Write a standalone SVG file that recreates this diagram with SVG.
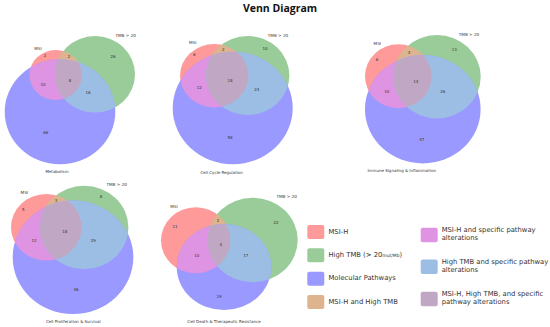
<svg xmlns="http://www.w3.org/2000/svg" width="550" height="327" viewBox="0 0 550 327">
<style>
.r{fill:#FF9A9A}.g{fill:#99CC99}.b{fill:#9999FF}
.rg{fill:#DDB48E}.rb{fill:#DE93E3}.gb{fill:#9CBEE4}.rgb{fill:#C0A8C4}
.n{font-family:"DejaVu Sans",sans-serif;font-size:4px;fill:#333;text-anchor:middle;dominant-baseline:central}
.lab{font-family:"DejaVu Sans",sans-serif;font-size:4.2px;fill:#333;text-anchor:middle;dominant-baseline:central}
.lg{font-family:"DejaVu Sans",sans-serif;font-size:6.8px;fill:#333;dominant-baseline:central}
.title{font-family:"Open Sans",sans-serif;font-size:10.5px;font-weight:bold;fill:#111;text-anchor:middle}
</style>
<defs>
<clipPath id="cR1"><ellipse cx="55.7" cy="75" rx="26.3" ry="25"/></clipPath>
<clipPath id="cG1"><ellipse cx="95" cy="74.3" rx="40" ry="38.3"/></clipPath>
<clipPath id="cR2"><ellipse cx="214.2" cy="75.7" rx="34.2" ry="31.7"/></clipPath>
<clipPath id="cG2"><ellipse cx="247.7" cy="75.5" rx="41.7" ry="39.5"/></clipPath>
<clipPath id="cR3"><ellipse cx="398.3" cy="76.3" rx="33.3" ry="32"/></clipPath>
<clipPath id="cG3"><ellipse cx="437" cy="76.7" rx="43.7" ry="41.7"/></clipPath>
<clipPath id="cR4"><ellipse cx="46.3" cy="227.3" rx="35.3" ry="33.3"/></clipPath>
<clipPath id="cG4"><ellipse cx="84.2" cy="227.5" rx="44.2" ry="41.8"/></clipPath>
<clipPath id="cR5"><ellipse cx="195.7" cy="240.3" rx="34.7" ry="33"/></clipPath>
<clipPath id="cG5"><ellipse cx="252.7" cy="240" rx="45" ry="42.3"/></clipPath>
</defs>
<rect width="550" height="327" fill="#fff"/>
<text class="title" x="280" y="12">Venn Diagram</text>

<g id="venn-metabolism">
<ellipse class="r" cx="55.7" cy="75" rx="26.3" ry="25"/>
<ellipse class="g" cx="95" cy="74.3" rx="40" ry="38.3"/>
<ellipse class="b" cx="60" cy="111.8" rx="55.3" ry="52.5"/>
<ellipse class="rg" cx="95" cy="74.3" rx="40" ry="38.3" clip-path="url(#cR1)"/>
<ellipse class="rb" cx="60" cy="111.8" rx="55.3" ry="52.5" clip-path="url(#cR1)"/>
<ellipse class="gb" cx="60" cy="111.8" rx="55.3" ry="52.5" clip-path="url(#cG1)"/>
<g clip-path="url(#cR1)"><ellipse class="rgb" cx="60" cy="111.8" rx="55.3" ry="52.5" clip-path="url(#cG1)"/></g>
<text class="lab" x="38" y="48">MSI</text>
<text class="lab" x="125.7" y="35">TMB &gt; 20</text>
<text class="n" x="45" y="55">2</text>
<text class="n" x="69" y="56.7">2</text>
<text class="n" x="113" y="56.7">26</text>
<text class="n" x="43" y="84">10</text>
<text class="n" x="70" y="80">8</text>
<text class="n" x="88" y="92">16</text>
<text class="n" x="45.7" y="132.7">66</text>
<text class="n" x="57" y="171.7">Metabolism</text>
</g>

<g id="venn-cell-cycle">
<ellipse class="r" cx="214.2" cy="75.7" rx="34.2" ry="31.7"/>
<ellipse class="g" cx="247.7" cy="75.5" rx="41.7" ry="39.5"/>
<ellipse class="b" cx="232.7" cy="108" rx="60" ry="56.3"/>
<ellipse class="rg" cx="247.7" cy="75.5" rx="41.7" ry="39.5" clip-path="url(#cR2)"/>
<ellipse class="rb" cx="232.7" cy="108" rx="60" ry="56.3" clip-path="url(#cR2)"/>
<ellipse class="gb" cx="232.7" cy="108" rx="60" ry="56.3" clip-path="url(#cG2)"/>
<g clip-path="url(#cR2)"><ellipse class="rgb" cx="232.7" cy="108" rx="60" ry="56.3" clip-path="url(#cG2)"/></g>
<text class="lab" x="192.7" y="42.7">MSI</text>
<text class="lab" x="278" y="35">TMB &gt; 20</text>
<text class="n" x="194.3" y="54.3">6</text>
<text class="n" x="223.3" y="49.3">2</text>
<text class="n" x="265" y="48.3">10</text>
<text class="n" x="199.3" y="87.3">12</text>
<text class="n" x="230" y="80">18</text>
<text class="n" x="256.7" y="89.3">24</text>
<text class="n" x="230" y="137.7">58</text>
<text class="n" x="221.7" y="172.3">Cell Cycle Regulation</text>
</g>

<g id="venn-immune">
<ellipse class="r" cx="398.3" cy="76.3" rx="33.3" ry="32"/>
<ellipse class="g" cx="437" cy="76.7" rx="43.7" ry="41.7"/>
<ellipse class="b" cx="422.8" cy="109.2" rx="57.8" ry="54.2"/>
<ellipse class="rg" cx="437" cy="76.7" rx="43.7" ry="41.7" clip-path="url(#cR3)"/>
<ellipse class="rb" cx="422.8" cy="109.2" rx="57.8" ry="54.2" clip-path="url(#cR3)"/>
<ellipse class="gb" cx="422.8" cy="109.2" rx="57.8" ry="54.2" clip-path="url(#cG3)"/>
<g clip-path="url(#cR3)"><ellipse class="rgb" cx="422.8" cy="109.2" rx="57.8" ry="54.2" clip-path="url(#cG3)"/></g>
<text class="lab" x="377.3" y="43.3">MSI</text>
<text class="lab" x="469" y="34">TMB &gt; 20</text>
<text class="n" x="377" y="59.3">6</text>
<text class="n" x="409" y="52.7">3</text>
<text class="n" x="454.3" y="49.3">13</text>
<text class="n" x="386.7" y="91">10</text>
<text class="n" x="415.7" y="81.7">14</text>
<text class="n" x="442.7" y="91.7">26</text>
<text class="n" x="421.7" y="139.3">47</text>
<text class="n" x="401.7" y="170.7">Immune Signaling &amp; Inflammation</text>
</g>

<g id="venn-proliferation">
<ellipse class="r" cx="46.3" cy="227.3" rx="35.3" ry="33.3"/>
<ellipse class="g" cx="84.2" cy="227.5" rx="44.2" ry="41.8"/>
<ellipse class="b" cx="73" cy="257.3" rx="60.3" ry="56.7"/>
<ellipse class="rg" cx="84.2" cy="227.5" rx="44.2" ry="41.8" clip-path="url(#cR4)"/>
<ellipse class="rb" cx="73" cy="257.3" rx="60.3" ry="56.7" clip-path="url(#cR4)"/>
<ellipse class="gb" cx="73" cy="257.3" rx="60.3" ry="56.7" clip-path="url(#cG4)"/>
<g clip-path="url(#cR4)"><ellipse class="rgb" cx="73" cy="257.3" rx="60.3" ry="56.7" clip-path="url(#cG4)"/></g>
<text class="lab" x="24.3" y="192.7">MSI</text>
<text class="lab" x="116.7" y="184.3">TMB &gt; 20</text>
<text class="n" x="23.3" y="209.3">5</text>
<text class="n" x="56" y="200">3</text>
<text class="n" x="101" y="196.7">8</text>
<text class="n" x="34" y="240.7">12</text>
<text class="n" x="64.7" y="231">18</text>
<text class="n" x="93.3" y="240.3">29</text>
<text class="n" x="76" y="289.3">46</text>
<text class="n" x="73.3" y="321.7">Cell Proliferation &amp; Survival</text>
</g>

<g id="venn-cell-death">
<ellipse class="r" cx="195.7" cy="240.3" rx="34.7" ry="33"/>
<ellipse class="g" cx="252.7" cy="240" rx="45" ry="42.3"/>
<ellipse class="b" cx="224" cy="267" rx="47.3" ry="43"/>
<ellipse class="rg" cx="252.7" cy="240" rx="45" ry="42.3" clip-path="url(#cR5)"/>
<ellipse class="rb" cx="224" cy="267" rx="47.3" ry="43" clip-path="url(#cR5)"/>
<ellipse class="gb" cx="224" cy="267" rx="47.3" ry="43" clip-path="url(#cG5)"/>
<g clip-path="url(#cR5)"><ellipse class="rgb" cx="224" cy="267" rx="47.3" ry="43" clip-path="url(#cG5)"/></g>
<text class="lab" x="174" y="206">MSI</text>
<text class="lab" x="286.7" y="196.7">TMB &gt; 20</text>
<text class="n" x="175" y="226.7">11</text>
<text class="n" x="218" y="220.7">2</text>
<text class="n" x="276" y="222.7">22</text>
<text class="n" x="196.7" y="255">10</text>
<text class="n" x="220.7" y="244">4</text>
<text class="n" x="245.7" y="255">17</text>
<text class="n" x="219" y="296.7">19</text>
<text class="n" x="224" y="321">Cell Death &amp; Therapeutic Resistance</text>
</g>

<g id="legend">
<g id="leg-msi"><rect class="r" x="307.3" y="225" width="17" height="14" rx="2"/><text class="lg" x="328.5" y="231.5">MSI-H</text></g>
<g id="leg-tmb"><rect class="g" x="307.3" y="248.3" width="17" height="14" rx="2"/><text class="lg" x="328.5" y="254.8">High TMB (&gt; 20<tspan font-size="4.5">mut/Mb</tspan>)</text></g>
<g id="leg-mol"><rect class="b" x="307.3" y="271.7" width="17" height="14" rx="2"/><text class="lg" x="328.5" y="278.2">Molecular Pathways</text></g>
<g id="leg-msi-tmb"><rect class="rg" x="307.3" y="295" width="17" height="14" rx="2"/><text class="lg" x="328.5" y="301.5">MSI-H and High TMB</text></g>
<g id="leg-msi-path"><rect class="rb" x="420.7" y="227.7" width="17" height="14.5" rx="2"/><text class="lg" x="441.7" y="230">MSI-H and specific pathway</text><text class="lg" x="441.7" y="238.3">alterations</text></g>
<g id="leg-tmb-path"><rect class="gb" x="420.7" y="259.5" width="17" height="14.5" rx="2"/><text class="lg" x="441.7" y="262">High TMB and specific pathway</text><text class="lg" x="441.7" y="270.3">alterations</text></g>
<g id="leg-all"><rect class="rgb" x="420.7" y="291.7" width="17" height="14.5" rx="2"/><text class="lg" x="441.7" y="293.7">MSI-H, High TMB, and specific</text><text class="lg" x="441.7" y="302">pathway alterations</text></g>
</g>
</svg>
